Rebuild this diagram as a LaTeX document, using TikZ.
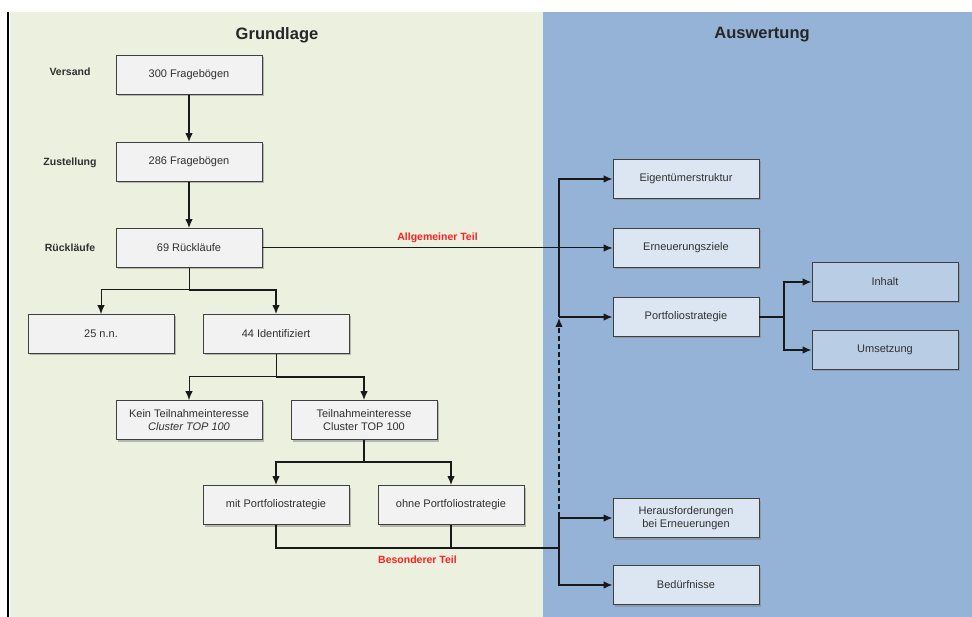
\documentclass[tikz,border=0pt]{standalone}
\usepackage{fontspec}
\setmainfont{Liberation Sans}
\usepackage{tikz}
\usetikzlibrary{positioning,calc,arrows.meta,shadows}
\definecolor{BgLeft}{HTML}{EBF0DF}
\definecolor{BgRight}{HTML}{95B3D7}
\definecolor{BoxGrey}{HTML}{F2F2F2}
\definecolor{BoxBlue}{HTML}{DCE6F2}
\definecolor{BoxBlueDark}{HTML}{B9CDE5}
\definecolor{Frame}{HTML}{404040}
\definecolor{Ink}{HTML}{303030}
\definecolor{Marker}{HTML}{FF2020}

\tikzset{
	box/.style={draw=Frame, line width=0.9pt, fill=BoxGrey, text=Ink,
		minimum width=146pt, minimum height=39pt, align=center,
		font=\fontsize{11}{13.5}\selectfont,
		drop shadow={shadow xshift=2pt, shadow yshift=-2pt, opacity=0.5}},
	bluebox/.style={box, fill=BoxBlue},
	darkbox/.style={box, fill=BoxBlueDark},
	rowlabel/.style={font=\fontsize{10.5}{12}\selectfont\bfseries, text=Ink},
	title/.style={font=\fontsize{16.5}{19}\selectfont\bfseries, text=black!85},
	partlabel/.style={font=\fontsize{10.5}{12}\selectfont\bfseries, text=Marker},
	link/.style={line width=1.3pt, draw=black!90},
	arr/.style={link, -{Latex[length=9pt,width=7.5pt]}},
}

\begin{document}
\begin{tikzpicture}[x=1pt, y=-1pt]
	\useasboundingbox (0,0) rectangle (972,617);
	
	% Hintergrund
	\fill[BgLeft] (10,12) rectangle (543,617);
	\fill[BgRight] (543,12) rectangle (972,617);
	\draw[line width=1.5pt] (8,12) -- (8,617);
	
	\node[title] (grundlage) at (277,35) {Grundlage};
	\node[title] (auswertung) at (762,35) {Auswertung};
	
	% Grundlage
	\node[box] (versand) at (189,75) {300 Fragebögen};
	\node[box] (zustellung) at (189,162) {286 Fragebögen};
	\node[box] (ruecklauf) at (189,248) {69 Rückläufe};
	\node[box] (nn) at (101,334) {25 n.n.};
	\node[box] (ident) at (276,334) {44 Identifiziert};
	\node[box] (kein) at (189,420) {Kein Teilnahmeinteresse\\\textit{Cluster TOP 100}};
	\node[box] (teiln) at (364,420) {Teilnahmeinteresse\\Cluster TOP 100};
	\node[box] (mitps) at (276,505) {mit Portfoliostrategie};
	\node[box] (ohneps) at (451,505) {ohne Portfoliostrategie};
	
	\node[rowlabel] (lversand) at (70,72) {Versand};
	\node[rowlabel] (lzustellung) at (70,163) {Zustellung};
	\node[rowlabel] (lruecklauf) at (70,248) {Rückläufe};
	
	% Auswertung
	\node[bluebox] (eigen) at (686,179) {Eigentümerstruktur};
	\node[bluebox] (erneu) at (686,248) {Erneuerungsziele};
	\node[bluebox] (portfolio) at (686,317) {Portfoliostrategie};
	\node[darkbox] (inhalt) at (885,282) {Inhalt};
	\node[darkbox] (umsetz) at (885,350) {Umsetzung};
	\node[bluebox] (heraus) at (686,518) {Herausforderungen\\bei Erneuerungen};
	\node[bluebox] (bedarf) at (686,585) {Bedürfnisse};
	
	% Verbindungen Grundlage
	\draw[arr] (versand) -- (zustellung);
	\draw[arr] (zustellung) -- (ruecklauf);
	
	\coordinate (split1) at (189,290);
	\draw[arr, line width=1pt] (ruecklauf) -- (split1) -| (nn);
	\draw[arr] (split1) -| (ident);
	
	\coordinate (split2) at (276,377);
	\draw[arr, line width=1pt] (ident.south) -- (split2) -| (kein);
	\draw[arr] (split2) -| (teiln);
	
	\coordinate (split3) at (364,462);
	\draw[arr] (teiln.south) -- (split3) -| (mitps);
	\draw[arr] (split3) -| (ohneps);
	
	% Allgemeiner Teil
	\draw[arr, line width=1pt] (ruecklauf.east) -- node[partlabel, above=1pt] {Allgemeiner Teil} (erneu.west);
	
	\coordinate (trunk) at (559,317);
	\draw[arr] (trunk) |- (eigen.west);
	\draw[arr] (trunk) -- (portfolio.west);
	
	\coordinate (fork) at (784,317);
	\draw[link] (portfolio.east) -- (fork);
	\draw[arr] (fork) |- (inhalt.west);
	\draw[arr] (fork) |- (umsetz.west);
	
	% Besonderer Teil
	\coordinate (join) at (559,548);
	\coordinate (dashend) at (559,517);
	\draw[link] (mitps.south) |- node[pos=0.75, partlabel, below=4pt] {Besonderer Teil} (join);
	\draw[link] (ohneps.south) -- (ohneps.south |- join);
	\draw[arr] (join) |- (heraus.west);
	\draw[arr] (join) |- (bedarf.west);
	\draw[arr, dashed, dash pattern=on 5pt off 3pt] (dashend) -- ($(trunk)+(0,1)$);
\end{tikzpicture}
\end{document}
